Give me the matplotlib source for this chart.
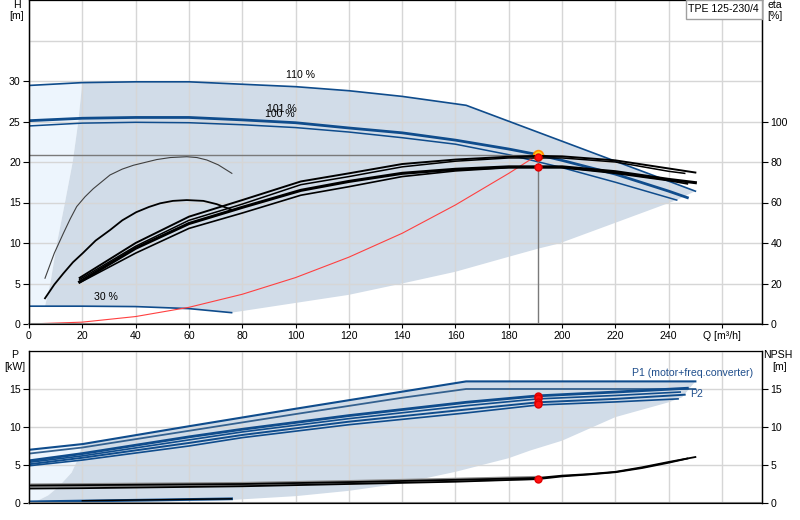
import matplotlib
matplotlib.use("Agg")
import matplotlib.pyplot as plt
from matplotlib.patches import Rectangle

plt.rcParams["font.family"] = ["Liberation Sans", "DejaVu Sans"]
plt.rcParams["font.size"] = 7.5

BLUE = "#0f4c8c"
FILL = "#d1dce8"
FILL_LIGHT = "#edf5fd"
GRID = "#d6d6d6"
FS = 7.6
DUTY_Q = 191

# ---- Q-H curves, head in m ----
q_110 = [0, 20, 40, 60, 80, 100, 120, 140, 164, 250]
h_110 = [29.45, 29.8, 29.9, 29.9, 29.6, 29.3, 28.8, 28.1, 27.0, 16.4]
q_101 = [0, 20, 40, 60, 80, 100, 120, 140, 160, 180, 191, 200, 220, 240, 247]
h_101 = [25.1, 25.4, 25.5, 25.5, 25.2, 24.85, 24.2, 23.6, 22.7, 21.6, 20.9, 20.2, 18.5, 16.4, 15.6]
q_100 = [0, 20, 40, 60, 80, 100, 120, 140, 160, 180, 200, 220, 243]
h_100 = [24.45, 24.8, 24.9, 24.85, 24.6, 24.25, 23.7, 23.0, 22.2, 20.9, 19.3, 17.5, 15.3]
q_30 = [0, 20, 40, 60, 76]
h_30 = [2.2, 2.2, 2.15, 1.9, 1.4]

# edges of the operating range (top chart)
q_edge = [6, 8, 10.5, 13.5, 16.4, 18.5, 20]
h_edge = [2.2, 5, 10, 15, 20, 25, 29.8]
q_low = [243, 220, 199, 191, 180, 160, 140, 120, 100, 76]
h_low = [15.3, 12.5, 9.95, 9.3, 8.3, 6.45, 5.0, 3.6, 2.6, 1.4]

# system curve
q_sys = [0, 20, 40, 60, 80, 100, 120, 140, 160, 180, 191]
h_sys = [0, 0.23, 0.92, 2.06, 3.67, 5.73, 8.25, 11.2, 14.7, 18.6, 20.9]

# ---- efficiency curves, eta in % ----
q_eta1 = [19, 40, 60, 80, 102, 120, 140, 160, 180, 191, 200, 220, 240, 250]
eta1 = [22.8, 40, 53, 61.2, 70.4, 74.4, 79, 81.2, 82.6, 83, 82.8, 80.8, 76.8, 74.8]
q_eta2 = [19, 40, 60, 80, 102, 120, 140, 160, 180, 200, 220, 240, 246]
eta2 = [22, 38.4, 51.2, 59.2, 68.8, 72.8, 77.6, 80.4, 82, 82, 80, 75.4, 74.4]
q_eta3 = [19, 40, 60, 80, 102, 120, 140, 160, 180, 191, 200, 220, 240, 250]
eta3 = [20.8, 37.4, 49.6, 57.6, 66, 70.4, 74.4, 76.4, 77.6, 77.6, 77.6, 75.2, 71.4, 69.8]
q_eta4 = [19, 40, 60, 80, 102, 120, 140, 160, 180, 200, 220, 240, 247]
eta4 = [20.4, 35, 47.2, 54.8, 63.6, 67.8, 72.8, 75.6, 77.2, 77.2, 74.4, 70.8, 69.2]
q_eta_thin = [6.0, 9.5, 12.9, 15.5, 17.9, 21, 24.1, 30.4, 35, 39.2, 47.9, 53, 59.2, 63, 66.7, 71, 76.1]
eta_thin = [22.6, 35, 44.8, 52, 58, 62.8, 66.8, 73.6, 76.5, 78.4, 81.2, 82.2, 82.6, 82.2, 81, 78.6, 74.4]
q_eta_30 = [6.0, 9.5, 12.9, 16.5, 20.1, 25, 30.4, 35, 40.2, 45, 49.2, 54, 59.2, 65.4, 70.4, 76.1]
eta_30 = [12.7, 19.5, 25, 30.5, 34.9, 41.2, 46.4, 51.2, 55.2, 57.8, 59.6, 60.8, 61.2, 60.8, 59.2, 56.4]

duty_h = 20.9
duty_eta = [82.6, 77.6]

# ---- power curves, kW ----
q_p1_110 = [0, 20, 60, 100, 140, 164, 250]
p1_110 = [7.0, 7.75, 10.1, 12.4, 14.65, 16.0, 16.0]
q_p2_110 = [0, 20, 60, 100, 140, 164, 250]
p2_110 = [6.5, 7.3, 9.5, 11.7, 13.85, 15.0, 15.0]
q_band = [0, 20, 60, 80, 120, 164, 191, 220]
p_band1 = [5.55, 6.5, 8.7, 9.7, 11.5, 13.25, 14.1, 14.6]
p_band2 = [5.35, 6.2, 8.3, 9.35, 11.1, 12.8, 13.7, 14.15]
p_band3 = [5.1, 5.95, 7.9, 8.95, 10.7, 12.3, 13.25, 13.7]
p_band4 = [4.9, 5.65, 7.5, 8.6, 10.3, 11.85, 12.9, 13.3]
band_end_q = [247, 244.3, 246, 243.5]
band_end_p = [15.1, 14.6, 14.25, 13.7]
duty_p = [14.05, 13.8, 13.25, 13.0]
q_p30 = [0, 76]
p_30 = [0.15, 0.55]

q_pedge = [1.5, 7.2, 11, 16, 18.5, 20]
p_edge = [0, 1, 2.1, 4, 5.9, 7.75]
q_plow = [1.5, 40, 76, 100, 120, 140, 160, 180, 188, 200, 220, 240, 245]
p_low = [0, 0.1, 0.4, 0.9, 1.6, 2.6, 4.1, 5.9, 6.9, 8.2, 11.3, 13.25, 13.9]

# ---- NPSH, m ----
q_npsh1 = [0, 20, 80, 120, 160, 191, 200, 210, 220, 230, 240, 250]
npsh1 = [2.3, 2.35, 2.5, 2.75, 3.05, 3.3, 3.6, 3.8, 4.1, 4.7, 5.4, 6.05]
q_npsh2 = [0, 20, 80, 120, 160, 191, 200, 210, 220, 230, 240, 247]
npsh2 = [1.9, 1.95, 2.2, 2.5, 2.8, 3.15, 3.5, 3.75, 4.05, 4.6, 5.3, 5.85]
duty_npsh = 3.2

x_ticks = list(range(0, 261, 20))
x_labels = [str(v) for v in range(0, 241, 20)] + ["Q [m\u00b3/h]"]

fig = plt.figure(figsize=(8, 5.2), dpi=100)
ax = fig.add_axes([29 / 800, 1 - 324 / 520, 733 / 800, 324 / 520])
axp = fig.add_axes([29 / 800, 1 - 503 / 520, 733 / 800, 152 / 520])


def style(a, top_grid):
    a.set_xlim(0, 275)
    a.set_axisbelow("line")
    a.set_xticks(x_ticks)
    a.grid(True, color=GRID, lw=1)
    for s in ("left", "right"):
        a.spines[s].set_color("black")
        a.spines[s].set_linewidth(1)
    a.spines["bottom"].set_color("#808080")
    a.spines["bottom"].set_linewidth(1.5)
    a.spines["top"].set_color("#909090")
    a.spines["top"].set_linewidth(1.0)
    a.tick_params(axis="y", length=4, width=0.8, pad=2, labelsize=FS)
    a.axhline(top_grid, color=GRID, lw=1, zorder=1.5)


def axis_label(x, y, s):
    fig.text(x / 800, 1 - y / 520, s, ha="center", va="baseline", fontsize=FS)


# ---------------- top chart ----------------
style(ax, 35)
ax.set_ylim(0, 40)
ax.set_yticks(range(0, 31, 5))
ax.set_xticklabels(x_labels)
ax.tick_params(axis="x", length=3, width=0.8, pad=2, labelsize=FS)

ax.fill([0] + q_edge + q_110[1::-1], [h_30[0]] + h_edge + h_110[1::-1], color=FILL_LIGHT, lw=0)
dark_q = q_edge + q_110[1:] + q_low + q_30[-2:0:-1]
dark_h = h_edge + h_110[1:] + h_low + h_30[-2:0:-1]
ax.fill(dark_q, dark_h, color=FILL, lw=0)

ax.plot(q_110, h_110, color=BLUE, lw=1.2)
ax.plot(q_101, h_101, color=BLUE, lw=2.0)
ax.plot(q_100, h_100, color=BLUE, lw=1.1)
ax.plot(q_30, h_30, color=BLUE, lw=1.2)
ax.plot(q_sys, h_sys, color="#ff4040", lw=0.8)
ax.plot([0, DUTY_Q], [duty_h, duty_h], color="#7a7a7a", lw=1)
ax.plot([DUTY_Q, DUTY_Q], [0, duty_h], color="#7a7a7a", lw=1)

ax.text(102, 30.8, "110 %", ha="center", va="center", fontsize=FS)
ax.text(95, 26.5, "101 %", ha="center", va="center", fontsize=FS)
ax.text(94, 25.9, "100 %", ha="center", va="center", fontsize=FS)
ax.text(29, 3.3, "30 %", ha="center", va="center", fontsize=FS)

eta = ax.twinx()
eta.set_ylim(0, 160)
eta.set_yticks(range(0, 101, 20))
eta.tick_params(axis="y", length=4, width=0.8, pad=2, labelsize=FS)
eta.plot(q_eta_thin, eta_thin, color="#404040", lw=0.8)
eta.plot(q_eta_30, eta_30, color="black", lw=1.3)
eta.plot(q_eta1, eta1, color="black", lw=1.4)
eta.plot(q_eta2, eta2, color="black", lw=1.1)
eta.plot(q_eta3, eta3, color="black", lw=2.2)
eta.plot(q_eta4, eta4, color="black", lw=1.2)
eta.plot([DUTY_Q] * 2, duty_eta, "o", color="#ff1010", ms=5, mec="#e00000")
ax.plot([DUTY_Q], [duty_h], "o", color="#ffd21f", ms=7, mec="#ff8c00", mew=1.2, zorder=5)

box = Rectangle((686 / 800, 1 - 19 / 520), 75.5 / 800, 19 / 520, transform=fig.transFigure,
                facecolor="white", edgecolor="#a0a0a0", lw=1, zorder=10)
fig.patches.append(box)
fig.text(723.5 / 800, 1 - 9.5 / 520, "TPE 125-230/4", ha="center", va="center", fontsize=FS, zorder=11)

axis_label(17, 8.5, "H")
axis_label(17, 19, "[m]")
axis_label(775, 8.5, "eta")
axis_label(775, 19, "[%]")

# ---------------- bottom chart ----------------
style(axp, 20)
axp.set_ylim(0, 20)
axp.set_yticks(range(0, 16, 5))
axp.tick_params(axis="x", length=0, labelbottom=False)

axp.fill([0] + q_pedge + [0], [0] + p_edge + [p1_110[0]], color=FILL_LIGHT, lw=0)
dq = q_pedge + q_p1_110[1:] + q_plow[::-1]
dp = p_edge + p1_110[1:] + p_low[::-1]
axp.fill(dq, dp, color=FILL, lw=0)

axp.plot(q_p1_110, p1_110, color=BLUE, lw=1.5)
axp.plot(q_p2_110, p2_110, color="#34618f", lw=1.3)
for pb, eq, ep, w in zip([p_band1, p_band2, p_band3, p_band4], band_end_q, band_end_p,
                         [2.0, 1.2, 1.4, 1.2]):
    axp.plot(q_band + [eq], pb + [ep], color=BLUE, lw=w)
axp.plot(q_p30, p_30, color=BLUE, lw=2.0)
axp.plot([20, 76], [0.3, 0.55], color="black", lw=1.0)

axp.text(271.5, 17.1, "P1 (motor+freq.converter)", ha="right", va="center", color="#1f4e8c", fontsize=FS)
axp.text(248, 14.3, "P2", ha="left", va="center", color="#1f4e8c", fontsize=FS)

npsh = axp.twinx()
npsh.set_ylim(0, 20)
npsh.set_yticks(range(0, 16, 5))
npsh.tick_params(axis="y", length=4, width=0.8, pad=2, labelsize=FS)
npsh.plot(q_npsh1[:6], npsh1[:6], color="#8c8c8c", lw=3.0)
npsh.plot(q_npsh1, npsh1, color="black", lw=1.3)
npsh.plot(q_npsh2, npsh2, color="black", lw=1.3)
npsh.plot([DUTY_Q], [duty_npsh], "o", color="#ff1010", ms=5, mec="#e00000")
axp.plot([DUTY_Q] * 4, duty_p, "o", color="#ff1010", ms=5, mec="#e00000", zorder=5)

axis_label(15, 358, "P")
axis_label(15, 370, "[kW]")
axis_label(778, 358, "NPSH")
axis_label(780, 370, "[m]")

fig.savefig("out.png", dpi=100)
